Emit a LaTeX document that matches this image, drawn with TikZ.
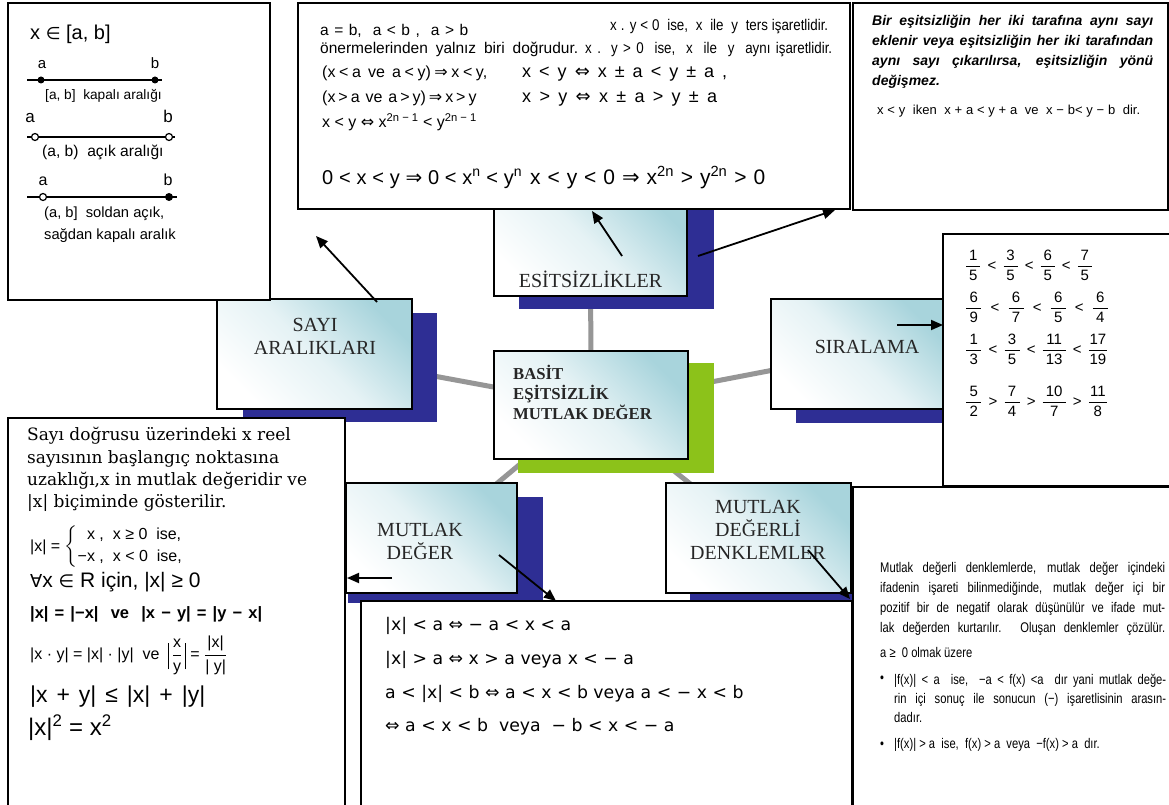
\documentclass[tikz,border=0pt]{standalone}
\usepackage{fontspec}
\usepackage{amsmath}
\setmainfont{Liberation Serif}
\newfontfamily\hs{Liberation Sans}
\newfontfamily\hn[FakeStretch=0.86]{Liberation Sans}
\newfontfamily\hc[FakeStretch=0.8]{Liberation Sans}
\newfontfamily\dv{DejaVu Sans}
\newfontfamily\dvs{DejaVu Serif}
\usetikzlibrary{arrows.meta}
\pgfdeclarelayer{background}
\pgfsetlayers{background,main}

\newcommand{\symIff}{{\dv ⇔}}
\newcommand{\symImp}{{\dv ⇒}}
\newcommand{\symIn}{\scalebox{0.85}{\dv ∈}}
\newcommand{\symAll}{\scalebox{0.85}{\dv ∀}}
% fraction with a fixed bar width
\newcommand{\frw}[3]{$\displaystyle\frac{\makebox[#1]{#2}}{\makebox[#1]{#3}}$}
% a line of text spread to a given width
\newcommand{\spread}[2]{\makebox[#1][s]{#2}}
% stacked fraction for the quotient rule
\newcommand{\qfr}[2]{$\dfrac{\mbox{#1}}{\mbox{#2}}$}
% tall absolute value bar
\newcommand{\tallbar}{\rule[-10pt]{0.8pt}{26pt}}

\definecolor{shadowblue}{RGB}{46,46,148}
\definecolor{shadowgreen}{RGB}{140,194,26}
\definecolor{boxcyan}{RGB}{168,212,220}
\definecolor{linkgray}{RGB}{150,150,150}

\tikzset{
  concept/.style={rectangle, draw=black, line width=2pt, inner sep=0pt,
    top color=boxcyan, bottom color=white, middle color=boxcyan!30!white,
    shading angle=-45},
  ctitle/.style={inner sep=0pt, align=center, text=black!85,
    font=\fontsize{20}{23}\selectfont},
  panel/.style={rectangle, draw=black, line width=2pt, fill=white, inner sep=0pt},
  link/.style={draw=linkgray, line width=5pt},
  arr/.style={-{Triangle[length=12pt,width=10pt]}, line width=1.8pt},
  tx/.style={anchor=mid west, inner sep=0pt},
  lbl/.style={anchor=mid, inner sep=0pt},
  numline/.style={line width=1.4pt},
}

\begin{document}
\begin{tikzpicture}[x=1pt,y=-1pt]
\useasboundingbox (0,0) rectangle (1169,805);
\clip (0,0) rectangle (1169,805);

% ---------- drop shadows of the topic boxes ----------
\fill[shadowblue] (519,200) rectangle (714,309);
\fill[shadowblue] (243,313) rectangle (437,422);
\fill[shadowgreen] (518,363) rectangle (714,473);
\fill[shadowblue] (796,313) rectangle (960,423);
\fill[shadowblue] (348,497) rectangle (543,603);
\fill[shadowblue] (690,497) rectangle (870,603);

% ---------- topic boxes ----------
\node[concept, minimum width=193pt, minimum height=106pt] (esit) at (590.5,243) {};
\node[concept, minimum width=195pt, minimum height=110pt] (sayi) at (314.5,354) {};
\node[concept, minimum width=194pt, minimum height=108pt] (core) at (591,405) {};
\node[concept, minimum width=172pt, minimum height=110pt] (sira) at (857,354) {};
\node[concept, minimum width=171pt, minimum height=110pt] (mdeg) at (431.5,538) {};
\node[concept, minimum width=185pt, minimum height=110pt] (mdd) at (758.5,538) {};

% ---------- links from the centre topic ----------
\begin{pgfonlayer}{background}
  \fill[white] (0,0) rectangle (1169,805);
  \draw[link] (core.center) -- (esit.center);
  \draw[link] (core.center) -- (sayi.center);
  \draw[link] (core.center) -- (sira.center);
  \draw[link] (core.center) -- (mdeg.center);
  \draw[link] (core.center) -- (mdd.center);
\end{pgfonlayer}

% ---------- topic titles ----------
\node[ctitle] (esitT) at (590.5,279) {ESİTSİZLİKLER};
\node[ctitle] (sayiT) at (315,336) {SAYI\\ARALIKLARI};
\node[ctitle] (siraT) at (867,347) {SIRALAMA};
\node[ctitle] (mdegT) at (420,541) {MUTLAK\\DEĞER};
\node[ctitle] (mddT) at (758,530) {MUTLAK\\DEĞERLİ\\DENKLEMLER};
\node[inner sep=0pt, anchor=west, align=left, text=black!85,
  font=\bfseries\fontsize{16.7}{20}\selectfont] (coreT) at (513,392)
  {BASİT\\EŞİTSİZLİK\\MUTLAK DEĞER};

% ---------- content panels ----------
\node[panel, minimum width=262pt, minimum height=297pt] (pTL) at (139,151.5) {};
\node[panel, minimum width=552pt, minimum height=206pt] (pTM) at (574,106) {};
\node[panel, minimum width=315pt, minimum height=207pt] (pTR) at (1010.5,106.5) {};
\node[panel, minimum width=237pt, minimum height=252pt] (pR) at (1061.5,360) {};
\node[panel, minimum width=337pt, minimum height=402pt] (pBL) at (176.5,619) {};
\node[panel, minimum width=491pt, minimum height=219pt] (pBM) at (606.5,710.5) {};
\node[panel, minimum width=327pt, minimum height=333pt] (pBR) at (1016.5,653.5) {};

% ---------- intervals panel ----------
\node[tx, font=\hs\fontsize{20}{24}\selectfont] (tlH) at (30,37) {x \symIn{} [a, b]};
\draw[numline] (27,80) -- (162,80);
\fill (41,80) circle (3.5pt) (155,80) circle (3.5pt);
\node[lbl, font=\hs\fontsize{15}{18}\selectfont] (la1) at (42,66) {a};
\node[lbl, font=\hs\fontsize{15}{18}\selectfont] (lb1) at (155,66) {b};
\node[tx, font=\hs\fontsize{13.7}{16}\selectfont] (cap1) at (45,97) {[a, b]\ \ kapalı aralığı};
\draw[numline] (27,137) -- (175,137);
\draw[line width=1.2pt, fill=white] (35,137) circle (3.5pt) (169,137) circle (3.5pt);
\node[lbl, font=\hs\fontsize{17}{20}\selectfont] (la2) at (30,120) {a};
\node[lbl, font=\hs\fontsize{17}{20}\selectfont] (lb2) at (168,120) {b};
\node[tx, font=\hs\fontsize{15.6}{18}\selectfont] (cap2) at (42,154) {(a, b)\ \ açık aralığı};
\draw[numline] (27,197) -- (177,197);
\draw[line width=1.2pt, fill=white] (43,197) circle (3.5pt);
\fill (169,197) circle (4pt);
\node[lbl, font=\hs\fontsize{16}{19}\selectfont] (la3) at (43,183) {a};
\node[lbl, font=\hs\fontsize{16}{19}\selectfont] (lb3) at (168,183) {b};
\node[tx, font=\hs\fontsize{14.7}{17}\selectfont] (cap3) at (44,215) {(a, b]\ \ soldan açık,};
\node[tx, font=\hs\fontsize{14.7}{17}\selectfont] (cap4) at (44,237) {sağdan kapalı aralık};

% ---------- inequalities panel ----------
\node[tx, font=\hs\fontsize{15.5}{18}\selectfont] (m1) at (320,33) {\spread{148pt}{a = b,\ \ a < b\ ,\ \ a > b}};
\node[tx, font=\hn\fontsize{15.5}{18}\selectfont] (m2) at (610,28) {\spread{218pt}{x . y < 0\ \ ise,\ \ x\ \ ile\ \ y\ \ ters işaretlidir.}};
\node[tx, font=\hs\fontsize{15.5}{18}\selectfont] (m3) at (320,51) {\spread{258pt}{önermelerinden yalnız biri doğrudur.}};
\node[tx, font=\hn\fontsize{15.5}{18}\selectfont] (m4) at (585,51) {\spread{247pt}{x . y > 0\ \ ise,\ \ x\ \ ile\ \ y\ \ aynı işaretlidir.}};
\node[tx, font=\hs\fontsize{16}{19}\selectfont] (m5) at (322,75) {\spread{165pt}{(x < a\ \ ve\ \ a < y) \symImp{} x < y,}};
\node[tx, font=\hs\fontsize{18}{19}\selectfont] (m6) at (522,75) {\spread{205pt}{x < y \symIff{} x ± a < y ± a ,}};
\node[tx, font=\hs\fontsize{16}{19}\selectfont] (m7) at (322,100) {\spread{150pt}{(x > a\ \ ve\ \ a > y) \symImp{} x > y}};
\node[tx, font=\hs\fontsize{18}{19}\selectfont] (m8) at (522,100) {\spread{195pt}{x > y \symIff{} x ± a > y ± a}};
\node[tx, font=\hs\fontsize{16}{18}\selectfont] (m9) at (322,125) {x < y \symIff{} x\textsuperscript{2n − 1} < y\textsuperscript{2n − 1}};
\node[tx, font=\hs\fontsize{20}{22}\selectfont] (m10) at (322,182) {\spread{200pt}{0 < x < y \symImp{} 0 < x\textsuperscript{n} < y\textsuperscript{n}}};
\node[tx, font=\hs\fontsize{21}{23}\selectfont] (m11) at (530,182) {\spread{235pt}{x < y < 0 \symImp{} x\textsuperscript{2n} > y\textsuperscript{2n} > 0}};

% ---------- rule panel ----------
\node[anchor=base west, inner sep=0pt] (trP) at (872,26) {\parbox[t]{281pt}{%
  \hs\bfseries\itshape\fontsize{14}{20}\selectfont\hyphenpenalty=10000
  Bir eşitsizliğin her iki tarafına aynı sayı\linebreak
  eklenir veya eşitsizliğin her iki tarafından\linebreak
  aynı sayı çıkarılırsa, eşitsizliğin yönü\linebreak
  değişmez.}};
\node[tx, font=\hs\fontsize{13}{16}\selectfont] (trX) at (877,112)
  {\spread{263pt}{x < y\ \ iken\ \ x + a < y + a\ \ ve\ \ x − b< y − b\ \ dir.}};

% ---------- ordering panel ----------
\node[tx, font=\hs\fontsize{15}{18}\selectfont] (f1) at (965,268)
  {\frw{14pt}{1}{5}\hspace{6pt}<\hspace{6pt}\frw{14pt}{3}{5}\hspace{6pt}<\hspace{6pt}\frw{14pt}{6}{5}\hspace{6pt}<\hspace{6pt}\frw{14pt}{7}{5}};
\node[tx, font=\hs\fontsize{15}{18}\selectfont] (f2) at (965,310)
  {\frw{15pt}{6}{9}\hspace{8pt}<\hspace{8pt}\frw{15pt}{6}{7}\hspace{8pt}<\hspace{8pt}\frw{15pt}{6}{5}\hspace{8pt}<\hspace{8pt}\frw{15pt}{6}{4}};
\node[tx, font=\hs\fontsize{15}{18}\selectfont] (f3) at (965,352)
  {\frw{15pt}{1}{3}\hspace{6pt}<\hspace{6pt}\frw{15pt}{3}{5}\hspace{6pt}<\hspace{6pt}\frw{23pt}{11}{13}\hspace{6pt}<\hspace{6pt}\frw{18pt}{17}{19}};
\node[tx, font=\hs\fontsize{15}{18}\selectfont] (f4) at (965,404)
  {\frw{15pt}{5}{2}\hspace{6pt}>\hspace{6pt}\frw{15pt}{7}{4}\hspace{6pt}>\hspace{6pt}\frw{23pt}{10}{7}\hspace{6pt}>\hspace{6pt}\frw{18pt}{11}{8}};

% ---------- absolute value panel ----------
\node[tx, font=\dvs\fontsize{17}{19}\selectfont] (bl1) at (27,438) {Sayı doğrusu üzerindeki x reel};
\node[tx, font=\dvs\fontsize{17}{19}\selectfont] (bl2) at (27,461) {sayısının başlangıç noktasına};
\node[tx, font=\dvs\fontsize{17}{19}\selectfont] (bl3) at (27,483) {uzaklığı,x in mutlak değeridir ve};
\node[tx, font=\dvs\fontsize{17}{19}\selectfont] (bl4) at (27,505) {|x| biçiminde gösterilir.};
\node[tx, font=\hs\fontsize{16}{18}\selectfont] (bl5) at (30,549)
  {|x| = $\left\{\begin{tabular}{@{}r@{\ ,\ \ }l@{}}x & x ≥ 0\ \ ise,\\[4pt] −x & x < 0\ \ ise,\end{tabular}\right.$};
\node[tx, font=\hs\fontsize{21}{24}\selectfont] (bl6) at (30,585) {\symAll x \symIn{} R için, |x| ≥ 0};
\node[tx, font=\hs\bfseries\fontsize{16.5}{19}\selectfont] (bl7) at (30,616) {\spread{232pt}{|x| = |−x|\ \ ve\ \ |x − y| = |y − x|}};
\node[tx, font=\hs\fontsize{16}{18}\selectfont] (bl8) at (30,657)
  {|x · y| = |x| · |y|\ \ ve\ \ \tallbar\,\qfr{x}{y}\,\tallbar\ = \qfr{|x|}{| y|}};
\node[tx, font=\hs\fontsize{23}{26}\selectfont] (bl9) at (30,700) {\spread{175pt}{|x + y| ≤ |x| + |y|}};
\node[tx, font=\hs\fontsize{24}{26}\selectfont] (bl10) at (28,733) {|x|\textsuperscript{2} = x\textsuperscript{2}};

% ---------- absolute inequalities panel ----------
\node[tx, font=\dv\fontsize{17.3}{19}\selectfont] (bm1) at (385,628) {|x| < a ⇔ − a < x < a};
\node[tx, font=\dv\fontsize{17.3}{19}\selectfont] (bm2) at (385,662) {|x| > a ⇔ x > a veya x < − a};
\node[tx, font=\dv\fontsize{17.3}{19}\selectfont] (bm3) at (385,696) {a < |x| < b ⇔ a < x < b veya a < − x < b};
\node[tx, font=\dv\fontsize{17.3}{19}\selectfont] (bm4) at (385,729) {⇔ a < x < b\ \ veya\ \ − b < x < − a};

% ---------- absolute equations panel ----------
\node[anchor=base west, inner sep=0pt] (brP) at (880,572) {\parbox[t]{285pt}{%
  \hc\fontsize{14}{20}\selectfont\hyphenpenalty=10000\parfillskip=0pt
  Mutlak değerli denklemlerde, mutlak değer içindeki\linebreak
  ifadenin işareti bilinmediğinde, mutlak değer içi bir\linebreak
  pozitif bir de negatif olarak düşünülür ve ifade mut-\linebreak
  lak değerden kurtarılır. Oluşan denklemler çözülür.}};
\node[tx, font=\hc\fontsize{14}{16}\selectfont] (brA) at (880,655) {a ≥\ \ 0 olmak üzere};
\node[tx, font=\hc\fontsize{14}{16}\selectfont] (brB1) at (880,680) {•};
\node[anchor=base west, inner sep=0pt] (brI1) at (894,684) {\parbox[t]{272pt}{%
  \hc\fontsize{14}{19}\selectfont\hyphenpenalty=10000
  |f(x)| < a\ \ ise,\ \ −a < f(x) <a\ \ dır yani mutlak değe-\linebreak
  rin içi sonuç ile sonucun (−) işaretlisinin arasın-\linebreak
  dadır.}};
\node[tx, font=\hc\fontsize{14}{16}\selectfont] (brB2) at (880,746) {•};
\node[tx, font=\hc\fontsize{14}{16}\selectfont] (brI2) at (894,746)
  {|f(x)| > a\ \ ise,\ \ f(x) > a\ \ veya\ \ −f(x) > a\ \ dır.};

% ---------- pointers from topics to panels ----------
\coordinate (s1) at (377,302); \coordinate (e1) at (316,236);
\coordinate (s2) at (622,256); \coordinate (e2) at (592,211);
\coordinate (s3) at (698,256); \coordinate (e3) at (835,210);
\coordinate (s4) at (897,325); \coordinate (e4) at (943,325);
\coordinate (s5) at (392,578); \coordinate (e5) at (347,578);
\coordinate (s6) at (499,555); \coordinate (e6) at (556,601);
\coordinate (s7) at (808,550); \coordinate (e7) at (850,599);
\draw[arr] (s1) -- (e1);
\draw[arr] (s2) -- (e2);
\draw[arr] (s3) -- (e3);
\draw[arr] (s4) -- (e4);
\draw[arr] (s5) -- (e5);
\draw[arr] (s6) -- (e6);
\draw[arr] (s7) -- (e7);
\end{tikzpicture}
\end{document}
